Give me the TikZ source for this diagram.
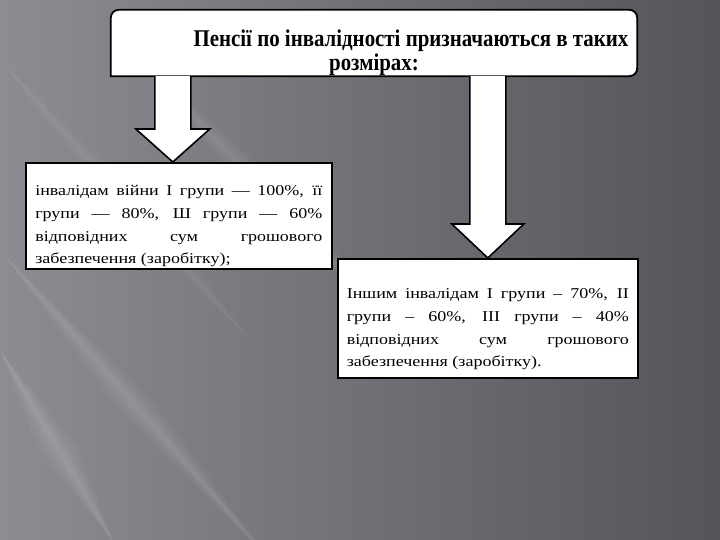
\documentclass[tikz,border=0pt]{standalone}
\usepackage{fontspec}
\setmainfont{Liberation Serif}
\newfontfamily\bodyfont[FakeStretch=1.2]{Liberation Serif}
\newfontfamily\titlefont[FakeStretch=0.87]{Liberation Serif}
\usetikzlibrary{positioning}
\usetikzlibrary{calc}
\usetikzlibrary{backgrounds}
\definecolor{bgleft}{RGB}{140,140,146}
\definecolor{bgright}{RGB}{84,84,90}

\begin{document}
\begin{tikzpicture}[x=1pt,y=-1pt,
  box/.style={draw=black, line width=1.6pt, fill=white, anchor=north west, align=justify,
    font=\bodyfont\fontsize{15}{22.7}\selectfont},
  fatarrow/.style={draw=black, line width=1.6pt, fill=white, line join=miter}]
\useasboundingbox (0,0) rectangle (720,540);
\tolerance=10000 \hyphenpenalty=10000

% background
\begin{scope}[on background layer]
\shade[left color=bgleft, right color=bgright] (0,0) rectangle (720,540);
\foreach \xa/\ya/\xb/\yb/\op in {120/40/400/330/0.03, 0/250/270/560/0.035,
    0/350/115/545/0.04, 0/60/250/340/0.025} {
  \foreach \w in {20,13,8,4} {
    \fill[white, opacity=\op] (\xa,\ya) -- ($(\xa,\ya)!0.5!(\xb,\yb)+(\w,0)$)
      -- (\xb,\yb) -- ($(\xa,\ya)!0.5!(\xb,\yb)-(\w,0)$) -- cycle;
  }
}
\end{scope}

% top box
\node[inner sep=0pt, minimum width=526pt, minimum height=66pt] (title) at (374,43) {};
\begin{scope}[on background layer]
\draw[line width=1.8pt, fill=white, rounded corners=8pt] (title.south west) |- (title.north east) -- (title.south east) [sharp corners] -- cycle;
\end{scope}
\node[inner sep=0pt, align=center, anchor=base,
  font=\titlefont\bfseries\fontsize{24}{24.5}\selectfont] (titletext) at (374,71)
  {\hspace*{74pt}Пенсії по інвалідності призначаються в таких\\розмірах:};

% lower boxes
\node[box, text width=287pt, inner xsep=9.5pt, inner ysep=2pt] (inv1) at (25,162)
  {\rule{0pt}{31pt}інвалідам війни І групи — 100\%, її\linebreak
   групи — 80\%, Ш групи — 60\%\linebreak
   відповідних сум грошового\linebreak
   забезпечення (заробітку);};
\node[box, text width=282pt, inner xsep=9pt, inner ysep=8pt] (inv2) at (337,258)
  {\rule{0pt}{32pt}Іншим інвалідам І групи – 70\%, ІІ\linebreak
   групи – 60\%, ІІІ групи – 40\%\linebreak
   відповідних сум грошового\linebreak
   забезпечення (заробітку).};

% arrows
\coordinate (tipL) at ([xshift=-6pt]inv1.north);
\draw[fatarrow] let \p1=(title.south), \p2=(tipL) in
  (\x2-18pt,\y1) -- (\x2-18pt,\y2+33pt) -- (\x2-37pt,\y2+33pt) -- (\x2,\y2)
  -- (\x2+37pt,\y2+33pt) -- (\x2+18pt,\y2+33pt) -- (\x2+18pt,\y1);
\draw[fatarrow] let \p1=(title.south), \p2=(inv2.north) in
  (\x2-18pt,\y1) -- (\x2-18pt,\y2+34pt) -- (\x2-36pt,\y2+34pt) -- (\x2,\y2)
  -- (\x2+36pt,\y2+34pt) -- (\x2+18pt,\y2+34pt) -- (\x2+18pt,\y1);

\end{tikzpicture}
\end{document}
